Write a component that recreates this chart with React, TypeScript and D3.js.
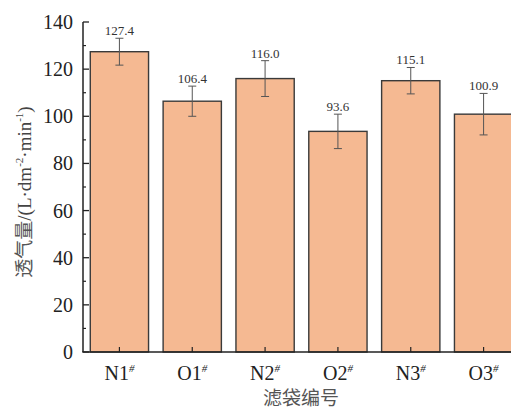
import React from "react";
import * as d3 from "d3";

const categories = ["N1", "O1", "N2", "O2", "N3", "O3"];
const values = [127.4, 106.4, 116.0, 93.6, 115.1, 100.9];
const errors = [5.7, 6.4, 7.6, 7.3, 5.6, 8.8];
const yTicks = [0, 20, 40, 60, 80, 100, 120, 140];
const yMinorTicks = [10, 30, 50, 70, 90, 110, 130];

const W = 511;
const H = 409;
const serif = "'Liberation Serif', 'Times New Roman', serif";
const cjk = "'Noto Sans CJK SC', sans-serif";

export default function App() {
  const x = d3.scaleBand<string>().domain(categories).range([83, 520]).paddingInner(0.2).paddingOuter(0.1);
  const y = d3.scaleLinear().domain([0, 140]).range([352, 22]);
  const bw = x.bandwidth();
  const fmt = d3.format(".1f");

  return (
    <svg width={W} height={H} style={{ position: "absolute", left: 0, top: 0, background: "#fff" }}>
      {categories.map((c, i) => {
        const x0 = x(c)!;
        const cx = x0 + bw / 2;
        const v = values[i];
        const e = errors[i];
        return (
          <g key={c}>
            <rect x={x0} y={y(v)} width={bw} height={y(0) - y(v)} fill="#F5B992" stroke="#3a3a3a" strokeWidth={1.4} />
            <line x1={cx} x2={cx} y1={y(v + e)} y2={y(v - e)} stroke="#555" strokeWidth={1} />
            <line x1={cx - 4} x2={cx + 4} y1={y(v + e)} y2={y(v + e)} stroke="#555" strokeWidth={1} />
            <line x1={cx - 4} x2={cx + 4} y1={y(v - e)} y2={y(v - e)} stroke="#555" strokeWidth={1} />
            <text x={cx} y={y(v + e) - 3} textAnchor="middle" fontFamily={serif} fontSize={13} fill="#333">
              {fmt(v)}
            </text>
            <line x1={cx} x2={cx} y1={y(0)} y2={y(0) - 5} stroke="#222" strokeWidth={1.2} />
            <text x={cx} y={380} textAnchor="middle" fontFamily={serif} fontSize={20} fill="#222">
              {c}
              <tspan fontSize={11} dy={-8} fontStyle="italic">#</tspan>
            </text>
          </g>
        );
      })}
      {/* axes */}
      <line x1={83} x2={83} y1={y(140)} y2={y(0)} stroke="#222" strokeWidth={1.5} />
      <line x1={82.25} x2={W} y1={y(0)} y2={y(0)} stroke="#222" strokeWidth={1.5} />
      {yTicks.map((t) => (
        <g key={t}>
          <line x1={83} x2={89} y1={y(t)} y2={y(t)} stroke="#222" strokeWidth={1.3} />
          <text x={73} y={y(t) + 7} textAnchor="end" fontFamily={serif} fontSize={20} fill="#222">
            {t}
          </text>
        </g>
      ))}
      {yMinorTicks.map((t) => (
        <line key={t} x1={83} x2={86} y1={y(t)} y2={y(t)} stroke="#222" strokeWidth={1.2} />
      ))}
      <text x={301} y={405} textAnchor="middle" fontFamily={cjk} fontSize={19} fill="#555">
        滤袋编号
      </text>
      <text
        transform={`translate(31, ${192}) rotate(-90)`}
        textAnchor="middle"
        fontFamily={serif}
        fontSize={19}
        fill="#444"
      >
        <tspan fontFamily={cjk} fontSize={19} fill="#555">透气量</tspan>
        <tspan>/(L·dm</tspan>
        <tspan fontSize={11} dy={-8}>-2</tspan>
        <tspan dy={8}>·min</tspan>
        <tspan fontSize={11} dy={-8}>-1</tspan>
        <tspan dy={8}>)</tspan>
      </text>
    </svg>
  );
}
